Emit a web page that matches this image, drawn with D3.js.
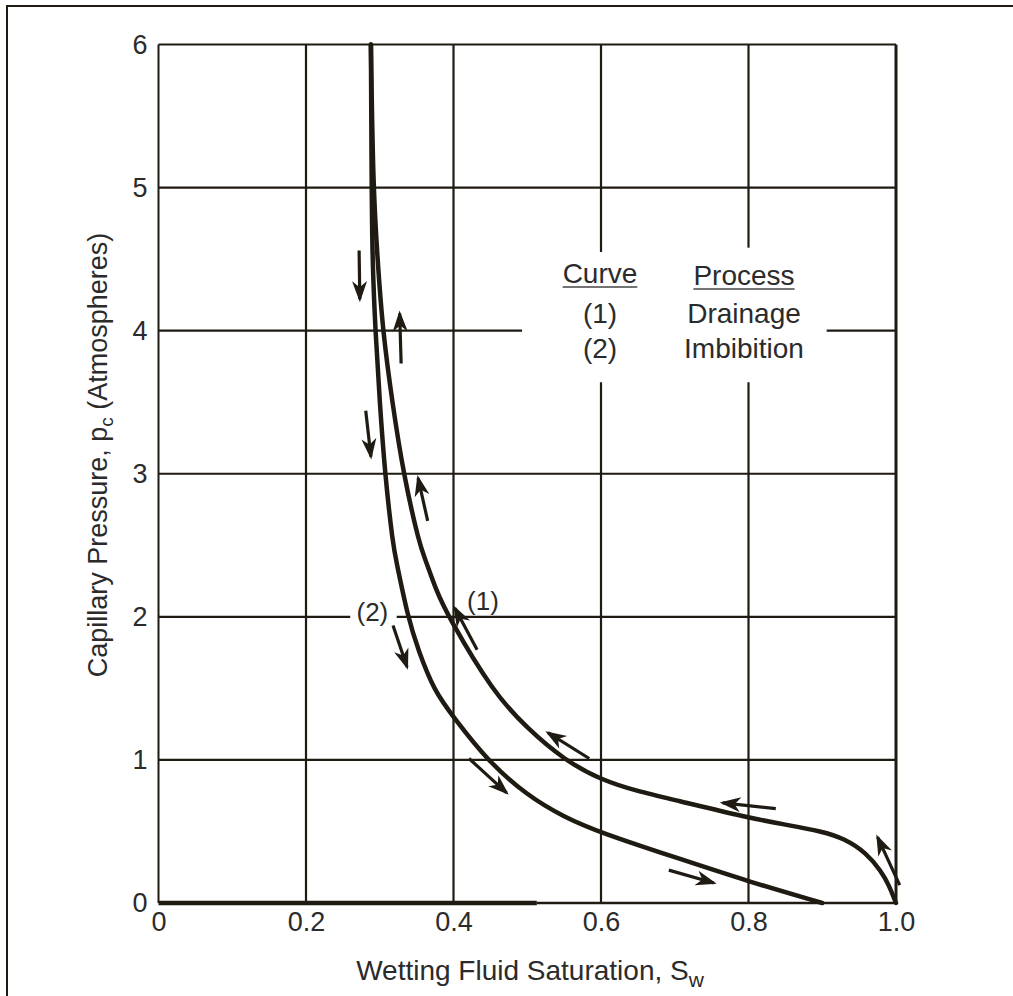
<!DOCTYPE html>
<html>
<head>
<meta charset="utf-8">
<script src="https://cdn.jsdelivr.net/npm/d3@7"></script>
<style>
  body { margin: 0; background: #fff; }
  svg { display: block; }
  text { font-family: "Liberation Sans", Arial, sans-serif; fill: #2b2b2b; }
</style>
</head>
<body>
<script>
// ticks
const xTicks = [0, 0.2, 0.4, 0.6, 0.8, 1.0];
const xTickLabels = ["0", "0.2", "0.4", "0.6", "0.8", "1.0"];
const yTicks = [0, 1, 2, 3, 4, 5, 6];

// curve (1) drainage, [Sw, pc]
const drainage = [
    [0.288, 6], [0.291, 5], [0.297, 4.5], [0.304, 4], [0.317, 3.5], [0.332, 3],
    [0.354, 2.5], [0.362, 2.4], [0.376, 2.19], [0.393, 2], [0.454, 1.47], [0.5, 1.22],
    [0.55, 1.0], [0.6, 0.86], [0.65, 0.78], [0.7, 0.72], [0.8, 0.595], [0.85, 0.548],
    [0.9, 0.5], [0.93, 0.45], [0.96, 0.35], [0.98, 0.22], [0.99, 0.13], [1.0, 0]
];

// curve (2) imbibition
const imbibition = [
    [0.288, 6], [0.289, 5], [0.290, 4.5], [0.294, 4], [0.300, 3.5], [0.307, 3],
    [0.318, 2.5], [0.322, 2.4], [0.338, 2], [0.352, 1.77], [0.374, 1.48], [0.4, 1.3],
    [0.445, 1.0], [0.5, 0.75], [0.55, 0.6], [0.6, 0.49], [0.7, 0.32], [0.8, 0.15], [0.9, 0]
];

// direction arrows: [Sw start, pc start, Sw tip, pc tip]
const arrows = [
    [0.272, 4.56, 0.273, 4.22],
    [0.329, 3.77, 0.327, 4.12],
    [0.281, 3.44, 0.288, 3.12],
    [0.365, 2.67, 0.352, 2.97],
    [0.318, 1.94, 0.337, 1.65],
    [0.432, 1.77, 0.402, 2.06],
    [0.421, 1.01, 0.472, 0.77],
    [0.584, 1.01, 0.528, 1.19],
    [0.837, 0.66, 0.765, 0.70],
    [0.692, 0.23, 0.753, 0.14],
    [1.005, 0.125, 0.975, 0.46]
];

// breaks in the grid where the labels sit: [axis, value, from, to]
const gridGaps = [
    ["y", 4, 0.493, 0.906],
    ["y", 2, 0.26, 0.323],
    ["x", 0.6, 3.64, 4.55],
    ["x", 0.8, 3.64, 4.58]
];

const curveLabels = [["(1)", 0.44, 2.05], ["(2)", 0.29, 1.97]];
const legendRows = [["Curve", "Process"], ["(1)", "Drainage"], ["(2)", "Imbibition"]];

const width = 1013, height = 996;
const margin = {top: 44.5, right: 117, bottom: 93, left: 158.5};
const ink = "#1f1b12";

const svg = d3.select("body").append("svg")
    .attr("width", width)
    .attr("height", height);

const x = d3.scaleLinear().domain([0, 1]).range([margin.left, width - margin.right]);
const y = d3.scaleLinear().domain([0, 6]).range([height - margin.bottom, margin.top]);

// outer frame (top and left edges only)
svg.append("path")
    .attr("d", `M7,996V6H1013`)
    .attr("fill", "none")
    .attr("stroke", ink)
    .attr("stroke-width", 2);

// grid, split where gaps are
function pieces(axis, v, lo, hi) {
    let segs = [[lo, hi]];
    gridGaps.filter(g => g[0] === axis && g[1] === v).forEach(g => {
        segs = segs.flatMap(([a, b]) => (g[2] > a && g[3] < b) ? [[a, g[2]], [g[3], b]] : [[a, b]]);
    });
    return segs;
}

const grid = svg.append("g").attr("stroke", ink).attr("fill", "none");

xTicks.filter(v => v > 0 && v < 1).forEach(v => {
    pieces("x", v, 0, 6).forEach(([a, b]) => {
        grid.append("line")
            .attr("x1", x(v)).attr("x2", x(v))
            .attr("y1", y(a)).attr("y2", y(b))
            .attr("stroke-width", 2.2);
    });
});

yTicks.filter(v => v > 0 && v < 6).forEach(v => {
    pieces("y", v, 0, 1).forEach(([a, b]) => {
        grid.append("line")
            .attr("x1", x(a)).attr("x2", x(b))
            .attr("y1", y(v)).attr("y2", y(v))
            .attr("stroke-width", 2.2);
    });
});

// plot border
grid.append("line").attr("x1", x(0)).attr("x2", x(1)).attr("y1", y(6)).attr("y2", y(6)).attr("stroke-width", 2);
grid.append("line").attr("x1", x(0)).attr("x2", x(0)).attr("y1", y(0)).attr("y2", y(6)).attr("stroke-width", 2);
grid.append("line").attr("x1", x(1)).attr("x2", x(1)).attr("y1", y(0)).attr("y2", y(6)).attr("stroke-width", 3);
grid.append("line").attr("x1", x(0)).attr("x2", x(0.513)).attr("y1", y(0)).attr("y2", y(0)).attr("stroke-width", 4.5);
grid.append("line").attr("x1", x(0.513)).attr("x2", x(1)).attr("y1", y(0)).attr("y2", y(0)).attr("stroke-width", 2.5);

// tick labels
const xAxis = svg.append("g")
    .attr("transform", `translate(0,${y(0)})`)
    .call(d3.axisBottom(x).tickValues(xTicks).tickFormat((d, i) => xTickLabels[i]).tickSize(0).tickPadding(9))
    .call(g => g.select(".domain").remove());

xAxis.selectAll("text")
    .attr("font-size", 27)
    .attr("font-family", "Liberation Sans, Arial, sans-serif")
    .attr("fill", "#2b2b2b");

const yAxis = svg.append("g")
    .attr("transform", `translate(${x(0)},0)`)
    .call(d3.axisLeft(y).tickValues(yTicks).tickFormat(d3.format("d")).tickSize(0).tickPadding(11))
    .call(g => g.select(".domain").remove());

yAxis.selectAll("text")
    .attr("font-size", 27)
    .attr("font-family", "Liberation Sans, Arial, sans-serif")
    .attr("fill", "#2b2b2b");

// curves
const line = d3.line()
    .x(d => x(d[0]))
    .y(d => y(d[1]))
    .curve(d3.curveBasis);

[drainage, imbibition].forEach(data => {
    svg.append("path")
        .attr("d", line(data))
        .attr("fill", "none")
        .attr("stroke", ink)
        .attr("stroke-width", 4.5)
        .attr("stroke-linecap", "round")
        .attr("stroke-linejoin", "round");
});

// arrows
const arrowG = svg.append("g");
arrows.forEach(([s0, p0, s1, p1]) => {
    const xa = x(s0), ya = y(p0), xb = x(s1), yb = y(p1);
    const ang = Math.atan2(yb - ya, xb - xa) * 180 / Math.PI;
    arrowG.append("line")
        .attr("x1", xa).attr("y1", ya)
        .attr("x2", xb).attr("y2", yb)
        .attr("stroke", ink)
        .attr("stroke-width", 3.2);
    arrowG.append("path")
        .attr("d", "M3,0L-18,-7.5L-12,0L-18,7.5Z")
        .attr("transform", `translate(${xb},${yb}) rotate(${ang})`)
        .attr("fill", ink);
});

// curve labels
svg.append("g")
    .selectAll("text")
    .data(curveLabels)
    .join("text")
    .attr("x", d => x(d[1]))
    .attr("y", d => y(d[2]))
    .attr("text-anchor", "middle")
    .attr("font-size", 26)
    .text(d => d[0]);

// legend
const legend = svg.append("g");
const legendX = [600, 744];
const legendY = [283, 323, 358];
legendRows.forEach((row, r) => {
    row.forEach((t, c) => {
        const txt = legend.append("text")
            .attr("x", legendX[c])
            .attr("y", legendY[r] + (r === 0 && c === 1 ? 2 : 0))
            .attr("text-anchor", "middle")
            .attr("font-size", 28)
            .text(t);
        if (r === 0) {
            const bb = txt.node().getBBox();
            legend.append("line")
                .attr("x1", bb.x).attr("x2", bb.x + bb.width)
                .attr("y1", legendY[r] + (c === 1 ? 6 : 4)).attr("y2", legendY[r] + (c === 1 ? 6 : 4))
                .attr("stroke", "#444")
                .attr("stroke-width", 1.6);
        }
    });
});

// axis titles
const xt = svg.append("text")
    .attr("x", 530)
    .attr("y", 980)
    .attr("text-anchor", "middle")
    .attr("font-size", 28);
xt.append("tspan").text("Wetting Fluid Saturation, S");
xt.append("tspan").attr("font-size", 21).attr("dy", 7).text("w");

const yt = svg.append("text")
    .attr("transform", "translate(107,455) rotate(-90)")
    .attr("text-anchor", "middle")
    .attr("font-size", 27);
yt.append("tspan").text("Capillary Pressure, p");
yt.append("tspan").attr("font-size", 19).attr("dy", 6).text("c");
yt.append("tspan").attr("dy", -6).text(" (Atmospheres)");
</script>
</body>
</html>
